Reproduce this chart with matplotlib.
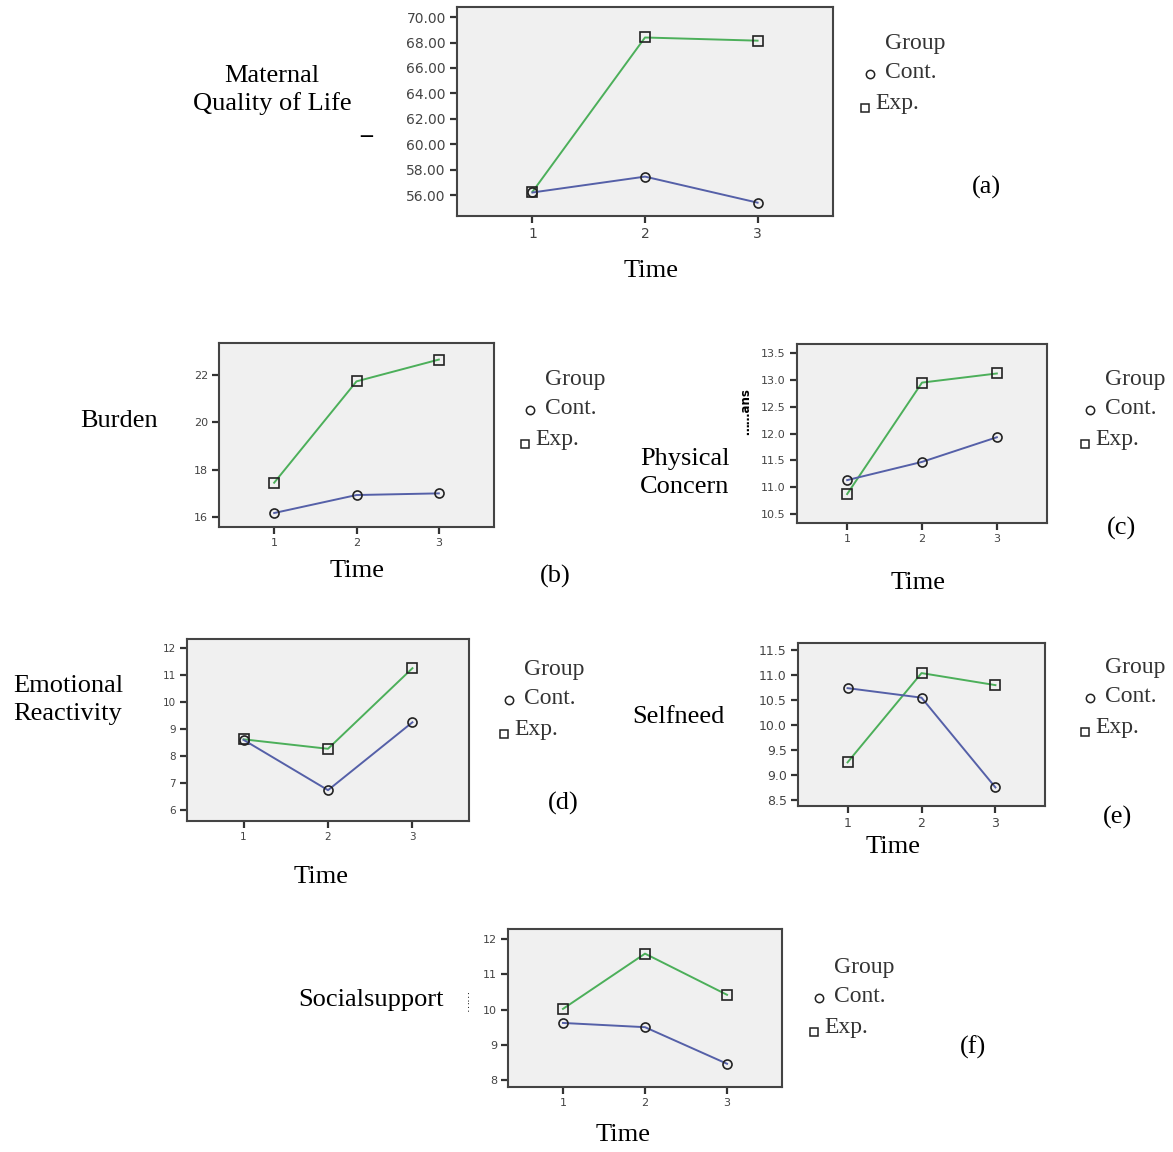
import matplotlib
matplotlib.use("Agg")
import matplotlib.pyplot as plt
from matplotlib.lines import Line2D
from matplotlib.ticker import FormatStrFormatter


W, H = 1173, 1152

TIME = [1, 2, 3]

QOL_CONT = [56.2, 57.45, 55.4]
QOL_EXP = [56.25, 68.4, 68.15]

BURDEN_CONT = [16.17, 16.93, 17.0]
BURDEN_EXP = [17.45, 21.73, 22.65]

PHYSICAL_CONT = [11.13, 11.47, 11.93]
PHYSICAL_EXP = [10.87, 12.95, 13.12]

EMOTIONAL_CONT = [8.6, 6.74, 9.25]
EMOTIONAL_EXP = [8.62, 8.27, 11.25]

SELFNEED_CONT = [10.74, 10.55, 8.76]
SELFNEED_EXP = [9.26, 11.04, 10.8]

SOCIAL_CONT = [9.62, 9.5, 8.46]
SOCIAL_EXP = [10.02, 11.59, 10.42]

QOL_TICKS = [56, 58, 60, 62, 64, 66, 68, 70]
BURDEN_TICKS = [16, 18, 20, 22]
PHYSICAL_TICKS = [10.5, 11.0, 11.5, 12.0, 12.5, 13.0, 13.5]
EMOTIONAL_TICKS = [6, 7, 8, 9, 10, 11, 12]
SELFNEED_TICKS = [8.5, 9.0, 9.5, 10.0, 10.5, 11.0, 11.5]
SOCIAL_TICKS = [8, 9, 10, 11, 12]

GREEN = "#4caf5a"
BLUE = "#5560a8"
SERIF = "Liberation Serif"
SANS = "DejaVu Sans"


def fx(x):
    return x / W


def fy(y):
    return 1 - y / H


def add_panel(fig, box, cont, exp, ticks, ylim, fmt, tick_size):
    left, top, right, bottom = box
    ax = fig.add_axes([fx(left), fy(bottom), fx(right - left), (bottom - top) / H])
    ax.set_facecolor("#f0f0f0")
    ax.plot(TIME, exp, color=GREEN, lw=1.4, marker="s", ms=7,
            mfc="none", mec="#222222", mew=1.2, zorder=3)
    ax.plot(TIME, cont, color=BLUE, lw=1.4, marker="o", ms=6.5,
            mfc="none", mec="#222222", mew=1.2, zorder=3)
    ax.set_xlim(0.33, 3.67)
    ax.set_ylim(*ylim)
    ax.set_xticks(TIME)
    ax.set_yticks(ticks)
    ax.yaxis.set_major_formatter(FormatStrFormatter(fmt))
    ax.tick_params(direction="out", length=5, width=1.6, color="#333333",
                   labelsize=tick_size, labelcolor="#444444", pad=3)
    for lab in ax.get_xticklabels() + ax.get_yticklabels():
        lab.set_fontfamily(SANS)
    for spine in ax.spines.values():
        spine.set_color("#444444")
        spine.set_linewidth(1.5)
    return ax


def add_legend(fig, x, y, size=17):
    # x, y: pixel position of the "Group" title's left edge / centre
    fig.text(fx(x), fy(y), "Group", family=SERIF, fontsize=size,
             ha="left", va="center", color="#333333")
    fig.text(fx(x), fy(y + 29), "Cont.", family=SERIF, fontsize=size,
             ha="left", va="center", color="#333333")
    fig.text(fx(x - 10), fy(y + 61), "Exp.", family=SERIF, fontsize=size,
             ha="left", va="center", color="#333333")
    fig.add_artist(Line2D([fx(x - 15)], [fy(y + 31)], marker="o", ms=6,
                          mfc="none", mec="#222222", mew=1.1,
                          transform=fig.transFigure))
    fig.add_artist(Line2D([fx(x - 20)], [fy(y + 65)], marker="s", ms=6,
                          mfc="none", mec="#222222", mew=1.1,
                          transform=fig.transFigure))


def label(fig, x, y, text, size=19, ha="center"):
    fig.text(fx(x), fy(y), text, family=SERIF, fontsize=size, ha=ha,
             va="center", linespacing=1.3, color="black")


fig = plt.figure(figsize=(W / 100, H / 100), dpi=100)
fig.patch.set_facecolor("white")

# (a) Maternal quality of life
add_panel(fig, (457, 7, 833, 216), QOL_CONT, QOL_EXP, QOL_TICKS,
          (54.35, 70.8), "%.2f", 10)
label(fig, 272, 90, "Maternal\nQuality of Life")
label(fig, 651, 271, "Time")
label(fig, 986, 187, "(a)")
add_legend(fig, 885, 43)
fig.text(fx(366), fy(136), "\u2014", family=SANS, fontsize=10,
         fontweight="bold", ha="center", va="center")

# (b) Burden
add_panel(fig, (219, 343, 494, 527), BURDEN_CONT, BURDEN_EXP, BURDEN_TICKS,
          (15.58, 23.35), "%d", 8)
label(fig, 119, 421, "Burden")
label(fig, 357, 571, "Time")
label(fig, 555, 576, "(b)")
add_legend(fig, 545, 379)

# (c) Physical concern
add_panel(fig, (797, 344, 1047, 523), PHYSICAL_CONT, PHYSICAL_EXP,
          PHYSICAL_TICKS, (10.33, 13.67), "%.1f", 8)
label(fig, 685, 473, "Physical\nConcern")
label(fig, 918, 583, "Time")
label(fig, 1121, 528, "(c)")
add_legend(fig, 1105, 379)
fig.text(fx(746), fy(412), "\u2026\u2026ans", family=SANS, fontsize=8.5,
         fontweight="bold", rotation=90, ha="center", va="center")

# (d) Emotional reactivity
add_panel(fig, (187, 639, 469, 821), EMOTIONAL_CONT, EMOTIONAL_EXP,
          EMOTIONAL_TICKS, (5.6, 12.33), "%d", 7.5)
label(fig, 68, 700, "Emotional\nReactivity")
label(fig, 321, 877, "Time")
label(fig, 563, 803, "(d)")
add_legend(fig, 524, 669)

# (e) Selfneed
add_panel(fig, (798, 643, 1045, 806), SELFNEED_CONT, SELFNEED_EXP,
          SELFNEED_TICKS, (8.39, 11.64), "%.1f", 9)
label(fig, 678, 717, "Selfneed")
label(fig, 893, 847, "Time")
label(fig, 1117, 817, "(e)")
add_legend(fig, 1105, 667)

# (f) Social support
add_panel(fig, (508, 929, 782, 1087), SOCIAL_CONT, SOCIAL_EXP, SOCIAL_TICKS,
          (7.8, 12.29), "%d", 8)
label(fig, 371, 1000, "Socialsupport")
label(fig, 623, 1135, "Time")
label(fig, 973, 1047, "(f)")
add_legend(fig, 834, 967)
fig.text(fx(466), fy(1000), "\u2026\u2026", family=SANS, fontsize=8,
         rotation=90, ha="center", va="center")

fig.savefig("out.png", dpi=100, facecolor="white")
plt.close(fig)
